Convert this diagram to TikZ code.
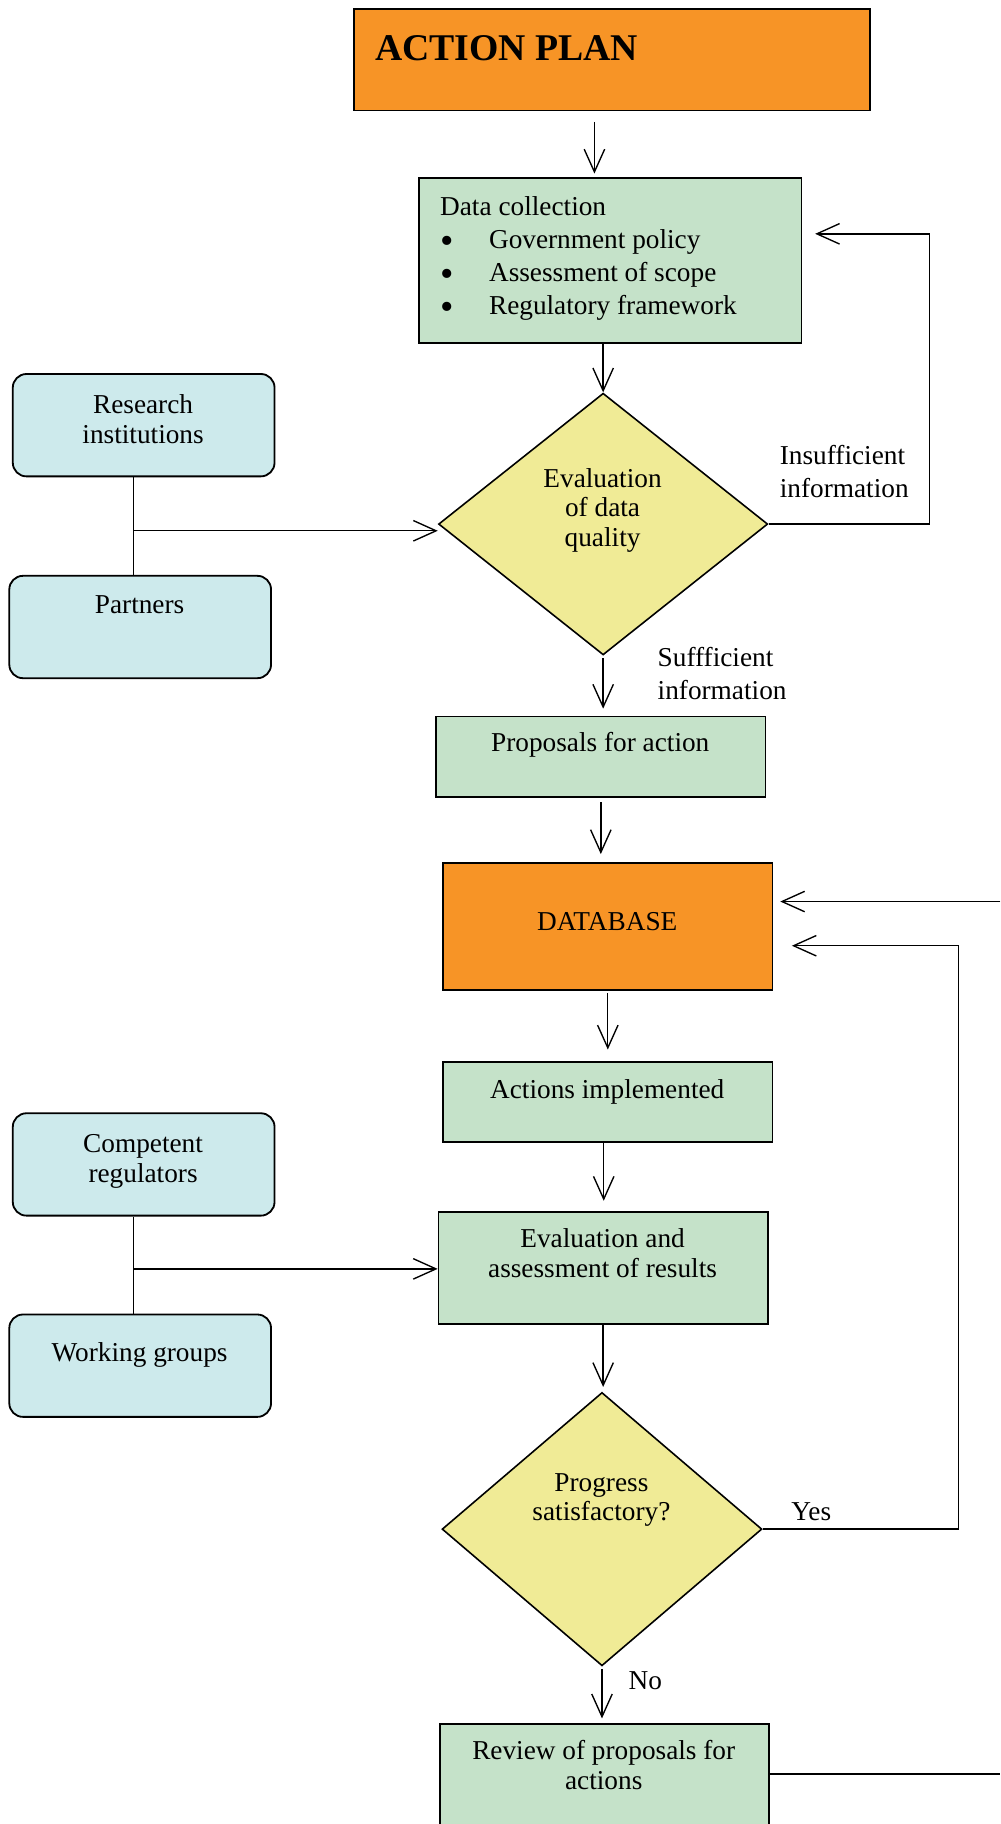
\documentclass[tikz,border=0pt]{standalone}
\usepackage{fontspec}
\setmainfont{Liberation Serif}
\usetikzlibrary{shapes.geometric,arrows.meta}
\newcommand\dpx{*0.5116pt}
\newcommand\bigbul{\makebox[21.5pt][l]{\raisebox{-2pt}[0pt][0pt]{\scalebox{1.4}{\textbullet}}}}
\definecolor{orng}{RGB}{247,148,38}
\definecolor{grn}{RGB}{197,226,201}
\definecolor{cyn}{RGB}{205,234,236}
\definecolor{ylw}{RGB}{240,235,150}
\begin{document}
\begin{tikzpicture}[x=0.5116pt,y=-0.5116pt,
  box/.style={draw, line width=0.8pt, inner sep=0pt},
  obox/.style={box, fill=orng},
  gbox/.style={box, fill=grn},
  cbox/.style={box, fill=cyn, rounded corners=6pt, minimum width=225\dpx, minimum height=88\dpx},
  dbox/.style={draw, line width=0.7pt, fill=ylw, diamond, inner sep=0pt},
  txt/.style={font=\fontsize{12}{13}\selectfont, inner sep=0pt, align=center},
  ltxt/.style={font=\fontsize{12}{14.5}\selectfont, inner sep=0pt, align=left},
  arr/.style={-{Straight Barb[length=10pt,width=9pt]}, line width=0.6pt},
  ln/.style={line width=0.6pt}]
\useasboundingbox (0,0) rectangle (860,1568);

% boxes
\node[obox, minimum width=444\dpx, minimum height=87\dpx] (plan) at (526,51.5) {};
\node[gbox, minimum width=329\dpx, minimum height=142\dpx] (data) at (524.5,224) {};
\node[dbox, minimum width=283\dpx, minimum height=225\dpx] (eval) at (518.5,450.5) {};
\node[cbox] (research) at (123.5,365.5) {};
\node[cbox] (partners) at (120.5,539) {};
\node[gbox, minimum width=283\dpx, minimum height=69\dpx] (prop) at (516.5,650.5) {};
\node[obox, minimum width=283\dpx, minimum height=109\dpx] (db) at (522.5,796.5) {};
\node[gbox, minimum width=283\dpx, minimum height=69\dpx] (act) at (522.5,947.5) {};
\node[gbox, minimum width=283\dpx, minimum height=96\dpx] (evr) at (518.5,1090) {};
\node[cbox] (comp) at (123.5,1001) {};
\node[cbox] (work) at (120.5,1174) {};
\node[dbox, minimum width=275\dpx, minimum height=235\dpx] (prog) at (517.5,1314.5) {};
\node[gbox, minimum width=283\dpx, minimum height=100\dpx] (rev) at (519.5,1532) {};

% texts
\node[anchor=base west, inner sep=0pt, font=\fontsize{16.6}{20}\selectfont\bfseries] (tplan) at (322,52) {ACTION PLAN};
\node[ltxt, anchor=north west] (tdata) at (378,169) {Data collection\\
\bigbul Government policy\\
\bigbul Assessment of scope\\
\bigbul Regulatory framework};
\node[txt, anchor=north] (teval) at (518,402) {Evaluation\\of data\\quality};
\node[txt, anchor=north] (tres) at (123,339) {Research\\institutions};
\node[txt, anchor=north] (tpart) at (120,512) {Partners};
\node[ltxt, anchor=north west] (tins) at (670,382) {Insufficient\\information};
\node[ltxt, anchor=north west] (tsuf) at (565,556) {Suffficient\\information};
\node[txt, anchor=north] (tprop) at (516,629) {Proposals for action};
\node[txt, anchor=north] (tdb) at (522,784) {DATABASE};
\node[txt, anchor=north] (tact) at (522,928) {Actions implemented};
\node[txt, anchor=north] (tevr) at (518,1056) {Evaluation and\\assessment of results};
\node[txt, anchor=north] (tcomp) at (123,975) {Competent\\regulators};
\node[txt, anchor=north] (twork) at (120,1154) {Working groups};
\node[txt, anchor=north] (tprog) at (517,1266) {Progress\\satisfactory?};
\node[txt, anchor=north west] (tyes) at (680,1291) {Yes};
\node[txt, anchor=north west] (tno) at (540,1437) {No};
\node[txt, anchor=north] (trev) at (519,1496) {Review of proposals for\\actions};

% main flow
\draw[arr] ([shift={(-15,9)}]plan.south) -- ([shift={(-13.5,-3)}]data.north);
\draw[arr] (data.south -| eval.north) -- (eval.north);
\draw[arr] ([shift={(0,2)}]eval.south) -- ([shift={(0,-6)}]eval.south |- prop.north);
\draw[arr] ([shift={(0,4)}]prop.south) -- ([shift={(0,-7)}]prop.south |- db.north);
\draw[arr] ([shift={(0,2)}]db.south) -- ([shift={(0,-10)}]db.south |- act.north);
\draw[arr] ([shift={(-3.5,0)}]act.south) -- ([shift={(-3.5,-9)}]act.south |- evr.north);
\draw[arr] (evr.south) -- ([shift={(0,-4)}]evr.south |- prog.north);
\draw[arr] ([shift={(0,2)}]prog.south) -- ([shift={(0,-4)}]prog.south |- rev.north);

% side inputs
\draw[ln] ([shift={(-8.5,0)}]research.south) -- ([shift={(-5.5,0)}]partners.north);
\coordinate (j1) at ([shift={(-8.5,46)}]research.south);
\draw[arr] (j1) -- (j1 -| eval.west);
\draw[ln] ([shift={(-8.5,0)}]comp.south) -- ([shift={(-5.5,0)}]work.north);
\coordinate (j2) at ([shift={(-8.5,45)}]comp.south);
\draw[arr] (j2) -- (j2 -| evr.west);

% loops
\coordinate (ins) at (799,201);
\draw[arr] (eval.east) -| (ins) -- ([shift={(11,-23)}]data.east);
\coordinate (yes) at (824,813);
\draw[arr] (prog.east) -| (yes) -- ([shift={(16,16.5)}]db.east);
\coordinate (rvout) at (860,1525);
\draw[ln] (rev.east |- rvout) -- (rvout);
\coordinate (dbin) at (860,775);
\draw[arr] (dbin) -- ([shift={(6,-21.5)}]db.east);
\end{tikzpicture}
\end{document}
